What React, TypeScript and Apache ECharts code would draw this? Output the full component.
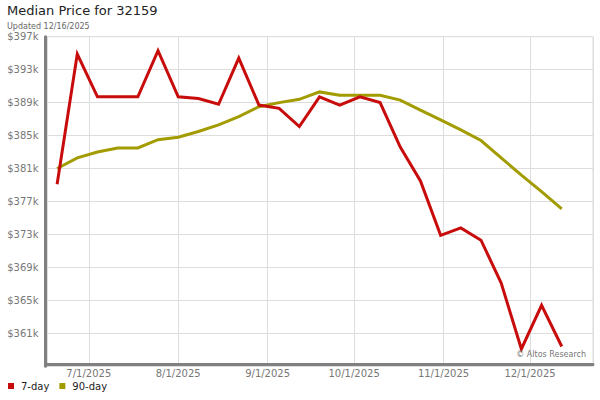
import React, { useEffect, useRef } from "react";
import * as echarts from "echarts";

// Weekly observation dates (local time)
const dates: string[] = [
  "2025-06-20", "2025-06-27", "2025-07-04", "2025-07-11", "2025-07-18", "2025-07-25",
  "2025-08-01", "2025-08-08", "2025-08-15", "2025-08-22", "2025-08-29", "2025-09-05",
  "2025-09-12", "2025-09-19", "2025-09-26", "2025-10-03", "2025-10-10", "2025-10-17",
  "2025-10-24", "2025-10-31", "2025-11-07", "2025-11-14", "2025-11-21", "2025-11-28",
  "2025-12-05", "2025-12-12",
];

// 7-day median price (USD)
const sevenDay: number[] = [
  379100, 394900, 389700, 389700, 389700, 395300, 389700, 389500, 388800, 394400,
  388700, 388300, 386100, 389700, 388700, 389700, 389000, 383600, 379500, 372900,
  373800, 372300, 367100, 359100, 364400, 359400,
];

// 90-day median price (USD)
const ninetyDay: number[] = [
  381000, 382300, 383000, 383500, 383500, 384500, 384800, 385500, 386300, 387300,
  388500, 389000, 389400, 390300, 389900, 389900, 389900, 389300, 388100, 386900,
  385700, 384400, 382300, 380200, 378200, 376100,
];

const seriesNames = ["7-day", "90-day"];
const titleText = "Median Price for 32159";
const subtitleText = "Updated 12/16/2025";
const watermarkText = "\u00a9 Altos Research";

const FONT = "'DejaVu Sans', Verdana, sans-serif";
const RED = "#c80c0c";
const OLIVE = "#a39c00";

function toTime(s: string): number {
  const [y, m, d] = s.split("-").map(Number);
  return new Date(y, m - 1, d).getTime();
}

export default function App() {
  const ref = useRef<HTMLDivElement>(null);

  useEffect(() => {
    if (!ref.current) return;
    const chart = echarts.init(ref.current, undefined, { renderer: "svg" });
    const times = dates.map(toTime);
    const option: any = {
      animation: false,
      backgroundColor: "#ffffff",
      textStyle: { fontFamily: FONT },
      title: {
        text: titleText,
        subtext: subtitleText,
        left: 7,
        top: 4,
        padding: 0,
        itemGap: 5,
        textStyle: { fontFamily: FONT, fontSize: 13, fontWeight: "normal", color: "#222" },
        subtextStyle: { fontFamily: FONT, fontSize: 8, color: "#666" },
      },
      legend: {
        data: seriesNames,
        left: 8,
        top: 381,
        padding: 0,
        icon: "rect",
        itemWidth: 6,
        itemHeight: 6,
        itemGap: 10,
        textStyle: { fontFamily: FONT, fontSize: 10, color: "#222", padding: [0, 0, 0, 2] },
      },
      grid: {
        left: 47,
        right: 7,
        top: 36.7,
        bottom: 33.7,
        show: true,
        borderColor: "#dddddd",
        borderWidth: 1,
        containLabel: false,
      },
      xAxis: {
        type: "time",
        min: new Date(2025, 5, 16, 12).getTime(),
        max: new Date(2025, 11, 22, 20).getTime(),
        splitNumber: 6,
        offset: -2.3,
        axisLine: { show: true, lineStyle: { color: "#808080", width: 3 } },
        axisTick: { show: false },
        splitLine: { show: true, lineStyle: { color: "#dddddd", width: 1 } },
        axisLabel: {
          fontFamily: FONT,
          fontSize: 10,
          color: "#777",
          margin: 4,
          showMinLabel: false,
          showMaxLabel: false,
          formatter: (v: number) => {
            const d = new Date(v);
            if (d.getDate() !== 1) return "";
            return `${d.getMonth() + 1}/${d.getDate()}/${d.getFullYear()}`;
          },
        },
      },
      yAxis: {
        type: "value",
        min: 357000,
        max: 397000,
        interval: 4000,
        offset: 1.5,
        axisLine: { show: true, lineStyle: { color: "#808080", width: 3 } },
        axisTick: { show: false },
        splitLine: { show: true, lineStyle: { color: "#dddddd", width: 1 } },
        axisLabel: {
          fontFamily: FONT,
          fontSize: 10,
          color: "#777",
          margin: 7,
          showMinLabel: false,
          formatter: (v: number) => (v === 357000 ? "" : "$" + Math.round(v / 1000) + "k"),
        },
      },
      graphic: [
        {
          type: "text",
          right: 14,
          top: 350,
          style: { text: watermarkText, fontFamily: FONT, fontSize: 8, fill: "#777" },
          z: 100,
        },
      ],
      series: [
        {
          name: seriesNames[1],
          type: "line",
          data: times.map((t, i) => [t, ninetyDay[i]]),
          showSymbol: false,
          color: OLIVE,
          lineStyle: { width: 3, color: OLIVE, join: "miter" },
          z: 2,
        },
        {
          name: seriesNames[0],
          type: "line",
          data: times.map((t, i) => [t, sevenDay[i]]),
          showSymbol: false,
          color: RED,
          lineStyle: { width: 3, color: RED, join: "miter" },
          z: 3,
        },
      ],
    };
    chart.setOption(option);
    return () => chart.dispose();
  }, []);

  return <div ref={ref} style={{ width: 600, height: 400, position: "fixed", left: 0, top: 0 }} />;
}
